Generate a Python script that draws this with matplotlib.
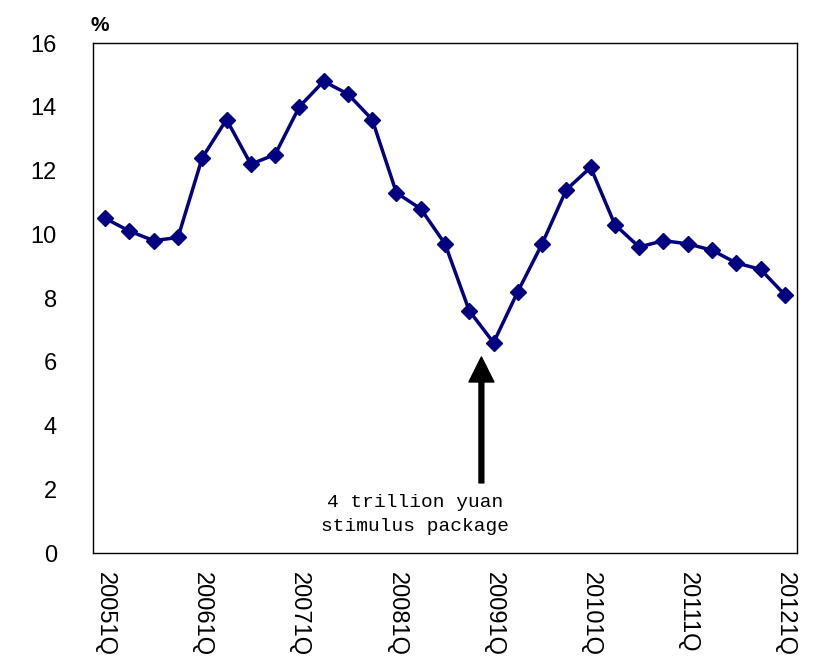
import numpy as np
import matplotlib.pyplot as plt

# quarterly GDP growth, 2005 1Q - 2012 1Q
quarters = ['%d%dQ' % (y, q) for y in range(2005, 2013) for q in range(1, 5)][:29]
growth = [10.5, 10.1, 9.8, 9.9,
          12.4, 13.6, 12.2, 12.5,
          14.0, 14.8, 14.4, 13.6,
          11.3, 10.8, 9.7, 7.6,
          6.6, 8.2, 9.7, 11.4,
          12.1, 10.3, 9.6, 9.8,
          9.7, 9.5, 9.1, 8.9,
          8.1]
note = '4 trillion yuan\nstimulus package'

plt.rcParams['font.family'] = ['Liberation Sans', 'DejaVu Sans']

fig = plt.figure(figsize=(8.18, 6.6), dpi=100)
ax = fig.add_axes([0.1137, 0.1621, 0.8606, 0.7727])

x = np.arange(len(growth))
ax.plot(x, growth, '-', color='#000080', linewidth=2.5,
        marker='D', markersize=8.5, markeredgecolor='#000080', markerfacecolor='#000080')

ax.set_xlim(-0.5, len(growth) - 0.5)
ax.set_ylim(0, 16)
ax.set_yticks(np.arange(0, 17, 2))
ax.set_xticks(x[::4])
ax.set_xticklabels(quarters[::4], rotation=270, ha='center', va='top')

ax.tick_params(axis='y', length=0, pad=26, labelsize=17)
ax.tick_params(axis='x', length=0, pad=14, labelsize=17)
for spine in ax.spines.values():
    spine.set_linewidth(1.0)
    spine.set_color('black')

# stimulus arrow
ax.annotate('', xy=(15.5, 6.15), xytext=(15.5, 2.2),
            arrowprops=dict(facecolor='black', edgecolor='black',
                            width=3.5, headwidth=18, headlength=18))
ax.text(12.75, 1.85, note, ha='center', va='top', fontsize=14,
        family=['Liberation Mono', 'DejaVu Sans Mono'], linespacing=1.5)

fig.text(0.122, 0.962, '%', ha='center', va='center', fontsize=15, fontweight='bold')

fig.savefig('out.png', dpi=100)
